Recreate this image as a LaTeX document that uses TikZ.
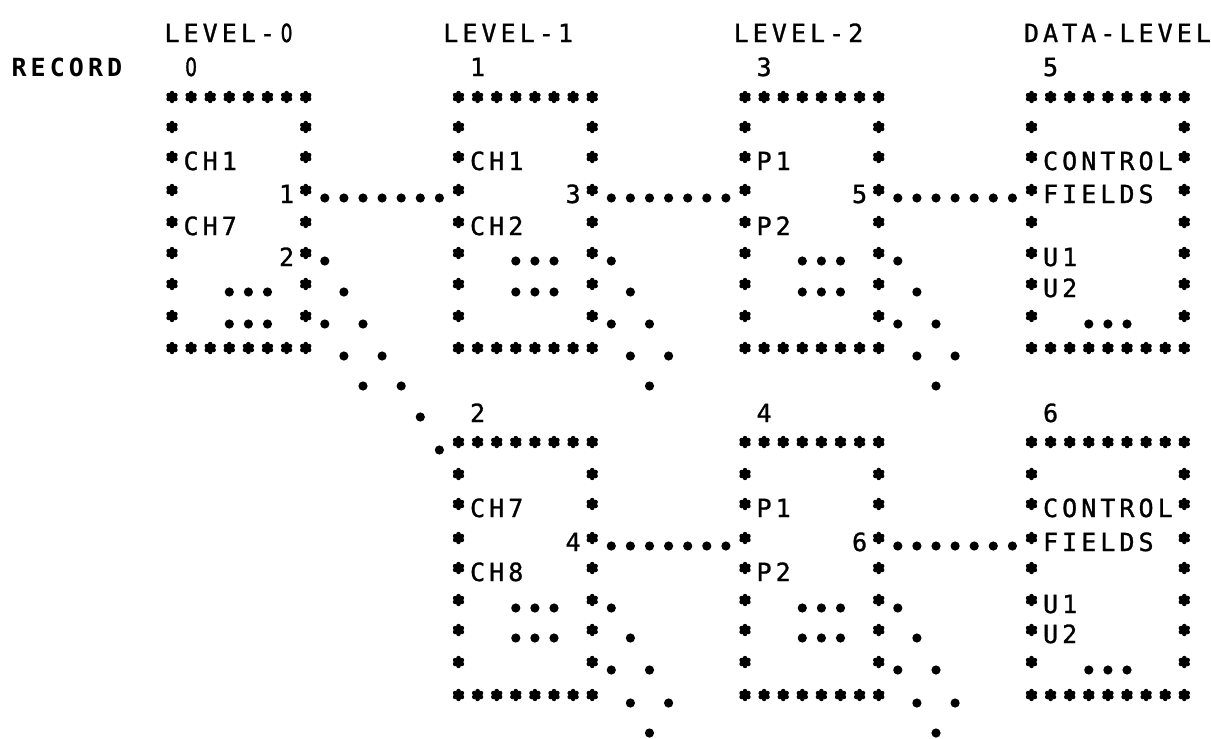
\documentclass[tikz,border=0pt]{standalone}
\usepackage{fontspec}
\newfontfamily\lpfont[FakeBold=1.2]{DejaVu Sans Mono}
\newfontfamily\lpbold{DejaVu Sans Mono Bold}
\newfontfamily\zfont[FakeStretch=0.75,FakeBold=1.2]{DejaVu Sans}
\def\Ylist{{33,67,101,131,161,194,226,257,288,320,352,382,413,446,478,508,542,572,604,634,666,699,729}}
\newcommand\spc[1]{\spci#1\relax}
\def\spci#1{\ifx\relax#1\else\makebox[19.1pt]{#1}\expandafter\spci\fi}
\tikzset{
  lt/.style={inner sep=0pt, outer sep=0pt, font=\fontsize{25}{25}\selectfont\lpfont},
  ltb/.style={lt, font=\fontsize{25}{25}\selectfont\lpbold},
  ast/.pic={\fill (0,0) circle (3.8pt); \foreach \a in {30,90,150,210,270,330} \fill (\a:3.9pt) circle (2.3pt);},
  pdot/.style={fill=black},
}
% text node: [style] name col row text
\newcommand\txt[5][lt]{\pgfmathsetmacro\tx{-19+19.1*(#3)-9.55}\pgfmathsetmacro\ty{\Ylist[#4]+9}\node[#1,anchor=base west] (#2) at (\tx,\ty) {\spc{#5}};}
% asterisks
\newcommand\astcol[2]{\pgfmathsetmacro\yy{\Ylist[#1]-4}\pic at ({-19+19.1*#2},\yy) {ast};}
\newcommand\astrun[3]{\pgfmathsetmacro\yy{\Ylist[#1]-4}\foreach \c in {#2,...,#3}{\pic at ({-19+19.1*\c},\yy) {ast};}}
\newcommand\abox[4]{\astrun{#3}{#1}{#2}\astrun{#4}{#1}{#2}%
  \pgfmathtruncatemacro\ra{#3+1}\pgfmathtruncatemacro\rb{#4-1}%
  \foreach \r in {\ra,...,\rb}{\astcol{\r}{#1}\astcol{\r}{#2}}}
% dots
\newcommand\dotrun[3]{\pgfmathsetmacro\yy{\Ylist[#1]+4}\foreach \c in {#2,...,#3}{\fill[pdot] ({-19+19.1*\c},\yy) circle (4.6pt);}}
\newcommand\dotcols[2]{\pgfmathsetmacro\yy{\Ylist[#1]+4}\foreach \c in {#2}{\fill[pdot] ({-19+19.1*\c},\yy) circle (4.6pt);}}
\begin{document}
\begin{tikzpicture}[x=1pt,y=-1pt]
\useasboundingbox (0,0) rectangle (1211,739);
% ---- headers
\txt{h0}{10}{0}{LEVEL-{\zfont 0}}
\txt{h1}{24.6}{0}{LEVEL-1}
\txt{h2}{39.8}{0}{LEVEL-2}
\txt{h3}{55}{0}{DATA-LEVEL}
\txt[ltb]{rec}{2}{1}{RECORD}
\txt{n0}{11}{1}{{\zfont 0}}
\txt{n1}{26}{1}{1}
\txt{n3}{41}{1}{3}
\txt{n5}{56}{1}{5}
\txt{n2}{26}{12}{2}
\txt{n4}{41}{12}{4}
\txt{n6}{56}{12}{6}
% ---- boxes (asterisk borders)
\abox{10}{17}{2}{10}
\abox{25}{32}{2}{10}
\abox{40}{47}{2}{10}
\abox{55}{63}{2}{10}
\abox{25}{32}{13}{21}
\abox{40}{47}{13}{21}
\abox{55}{63}{13}{21}
% ---- box contents
\txt{b0a}{11}{4}{CH1}
\txt{b0b}{16}{5}{1}
\txt{b0c}{11}{6}{CH7}
\txt{b0d}{16}{7}{2}
\txt{b1a}{26}{4}{CH1}
\txt{b1b}{31}{5}{3}
\txt{b1c}{26}{6}{CH2}
\txt{b3a}{41}{4}{P1}
\txt{b3b}{46}{5}{5}
\txt{b3c}{41}{6}{P2}
\txt{b5a}{56}{4}{CONTROL}
\txt{b5b}{56}{5}{FIELDS}
\txt{b5c}{56}{7}{U1}
\txt{b5d}{56}{8}{U2}
\txt{b2a}{26}{15}{CH7}
\txt{b2b}{31}{16}{4}
\txt{b2c}{26}{17}{CH8}
\txt{b4a}{41}{15}{P1}
\txt{b4b}{46}{16}{6}
\txt{b4c}{41}{17}{P2}
\txt{b6a}{56}{15}{CONTROL}
\txt{b6b}{56}{16}{FIELDS}
\txt{b6c}{56}{18}{U1}
\txt{b6d}{56}{19}{U2}
% ---- inner "..." marks
\dotrun{8}{13}{15}\dotrun{9}{13}{15}
\dotrun{7}{28}{30}\dotrun{8}{28}{30}
\dotrun{7}{43}{45}\dotrun{8}{43}{45}
\dotrun{9}{58}{60}
\dotrun{18}{28}{30}\dotrun{19}{28}{30}
\dotrun{18}{43}{45}\dotrun{19}{43}{45}
\dotrun{20}{58}{60}
% ---- horizontal pointer chains
\dotrun{5}{18}{24}\dotrun{5}{33}{39}\dotrun{5}{48}{54}
\dotrun{16}{33}{39}\dotrun{16}{48}{54}
% ---- diagonal pointer chains
\dotcols{7}{18,33,48}
\dotcols{8}{19,34,49}
\dotcols{9}{18,20,33,35,48,50}
\dotcols{10}{19,21,34,36,49,51}
\dotcols{11}{20,22,35,50}
\dotcols{12}{23}
\dotcols{13}{24}
\dotcols{18}{33,48}
\dotcols{19}{34,49}
\dotcols{20}{33,35,48,50}
\dotcols{21}{34,36,49,51}
\dotcols{22}{35,50}
\end{tikzpicture}
\end{document}
